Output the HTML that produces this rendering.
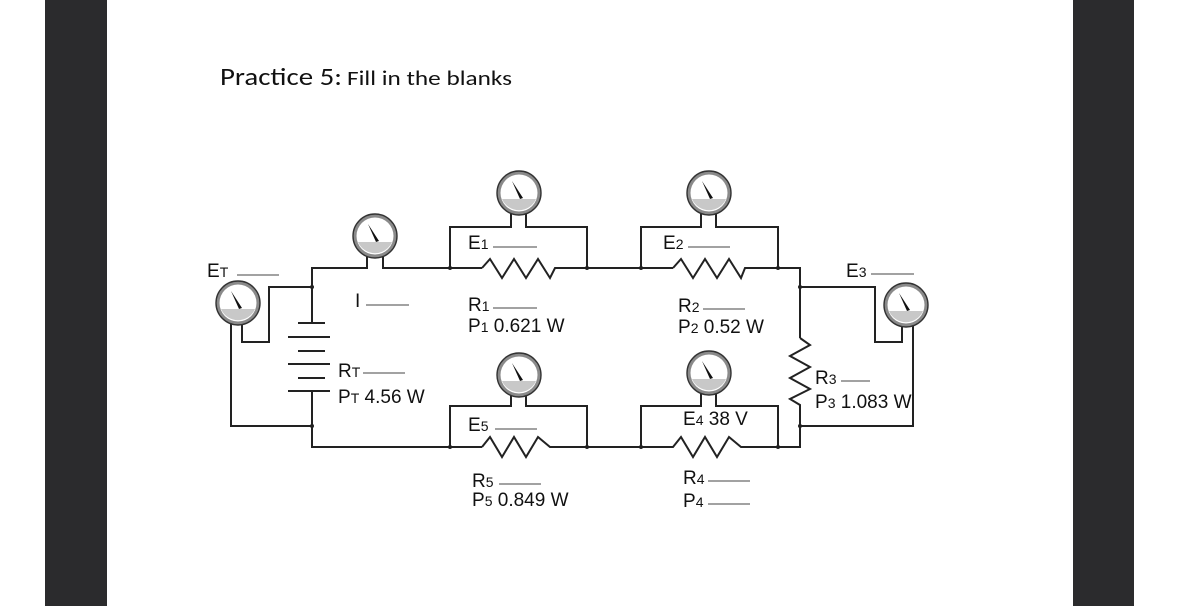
<!DOCTYPE html>
<html><head><meta charset="utf-8"><style>
html,body{margin:0;padding:0;background:#fff;}
body{width:1179px;height:606px;overflow:hidden;position:relative;}
.bar{position:absolute;top:0;height:606px;background:#2b2b2d;}
svg{position:absolute;left:0;top:0;}
text{font-family:"Liberation Sans",Arial,sans-serif;fill:#111;}
</style></head><body>
<div class="bar" style="left:45px;width:62px"></div>
<div class="bar" style="left:1073px;width:61px"></div>
<svg width="1179" height="606" viewBox="0 0 1179 606">
<defs>
<g id="m">
<circle r="22" fill="#8a8a8a"/>
<circle r="18.5" fill="#fff"/>
<path d="M-17,6 A18.5,18.5 0 0 0 17,6 Z" fill="#c8c8c8"/>
<path d="M-7,-12 L4,5 L1,6 Z" fill="#111"/>
<circle r="22" fill="none" stroke="#333" stroke-width="1.4"/>
</g>
</defs>
<text x="220" y="85" font-size="25" style="font-family:'Carlito','Liberation Sans',sans-serif" textLength="122" lengthAdjust="spacingAndGlyphs">Practice 5:</text>
<text x="347" y="85" font-size="21" style="font-family:'Carlito','Liberation Sans',sans-serif" textLength="165" lengthAdjust="spacingAndGlyphs">Fill in the blanks</text>

<g stroke="#222" stroke-width="2" fill="none">
<polyline points="312,323 312,268 367,268 367,256"/>
<polyline points="383,256 383,268 482,268"/>
<polyline points="312,391 312,447 482,447"/>
<polyline points="482,268 490,259 502,278 514,259 526,278 538,259 550,278 555,268 673,268"/>
<polyline points="450,268 450,227 511,227 511,213"/>
<polyline points="526,213 526,227 587,227 587,268"/>
<polyline points="673,268 681,259 693,278 705,259 717,278 729,259 741,278 745,268 800,268 800,338"/>
<polyline points="641,268 641,227 701,227 701,213"/>
<polyline points="716,213 716,227 778,227 778,268"/>
<polyline points="800,338 810,345 790,356 810,367 790,378 810,389 790,399 800,405 800,447 745,447"/>
<polyline points="745,447 741,447 729,437 717,457 705,437 693,457 681,437 673,447 555,447"/>
<polyline points="641,447 641,406 701,406 701,393"/>
<polyline points="716,393 716,406 778,406 778,447"/>
<polyline points="555,447 550,447 538,437 526,457 514,437 502,457 490,437 482,447"/>
<polyline points="450,447 450,406 511,406 511,395"/>
<polyline points="526,395 526,406 587,406 587,447"/>
<polyline points="312,287 269,287 269,342 242,342 242,322"/>
<polyline points="231,322 231,426 312,426"/>
<polyline points="800,287 875,287 875,342 902,342 902,325"/>
<polyline points="913,325 913,426 800,426"/>
<line x1="298" y1="323" x2="325" y2="323"/>
<line x1="288" y1="337" x2="330" y2="337"/>
<line x1="298" y1="351" x2="325" y2="351"/>
<line x1="288" y1="364" x2="330" y2="364"/>
<line x1="298" y1="378" x2="325" y2="378"/>
<line x1="288" y1="391" x2="330" y2="391"/>
</g>
<g fill="#222">
<circle cx="312" cy="287" r="2"/><circle cx="312" cy="426" r="2"/>
<circle cx="450" cy="268" r="2"/><circle cx="587" cy="268" r="2"/>
<circle cx="641" cy="268" r="2"/><circle cx="778" cy="268" r="2"/>
<circle cx="450" cy="447" r="2"/><circle cx="587" cy="447" r="2"/>
<circle cx="641" cy="447" r="2"/><circle cx="778" cy="447" r="2"/>
<circle cx="800" cy="287" r="2"/><circle cx="800" cy="426" r="2"/>
</g>
<use href="#m" x="238" y="303"/>
<use href="#m" x="375" y="236"/>
<use href="#m" x="519" y="193"/>
<use href="#m" x="709" y="193"/>
<use href="#m" x="519" y="375"/>
<use href="#m" x="709" y="373"/>
<use href="#m" x="906" y="305"/>

<g font-size="19">
<text x="207" y="277">E<tspan font-size="14">T</tspan></text>
<text x="355" y="307">I</text>
<text x="468" y="249">E<tspan font-size="14">1</tspan></text>
<text x="468" y="311">R<tspan font-size="14">1</tspan></text>
<text x="468" y="332">P<tspan font-size="14">1</tspan> 0.621 W</text>
<text x="338" y="377">R<tspan font-size="14">T</tspan></text>
<text x="338" y="403">P<tspan font-size="14">T</tspan> 4.56 W</text>
<text x="468" y="431">E<tspan font-size="14">5</tspan></text>
<text x="472" y="487">R<tspan font-size="14">5</tspan></text>
<text x="472" y="506">P<tspan font-size="14">5</tspan> 0.849 W</text>
<text x="663" y="249">E<tspan font-size="14">2</tspan></text>
<text x="678" y="312">R<tspan font-size="14">2</tspan></text>
<text x="678" y="333">P<tspan font-size="14">2</tspan> 0.52 W</text>
<text x="846" y="277">E<tspan font-size="14">3</tspan></text>
<text x="815" y="384">R<tspan font-size="14">3</tspan></text>
<text x="815" y="408">P<tspan font-size="14">3</tspan> 1.083 W</text>
<text x="683" y="425">E<tspan font-size="14">4</tspan> 38 V</text>
<text x="683" y="484">R<tspan font-size="14">4</tspan></text>
<text x="683" y="507">P<tspan font-size="14">4</tspan></text>
</g>
<g stroke="#444" stroke-width="1">
<line x1="237" y1="275" x2="279" y2="275"/>
<line x1="366" y1="305" x2="409" y2="305"/>
<line x1="493" y1="247" x2="537" y2="247"/>
<line x1="493" y1="308" x2="537" y2="308"/>
<line x1="363" y1="373" x2="405" y2="373"/>
<line x1="495" y1="429" x2="537" y2="429"/>
<line x1="499" y1="484" x2="541" y2="484"/>
<line x1="688" y1="247" x2="730" y2="247"/>
<line x1="703" y1="309" x2="745" y2="309"/>
<line x1="871" y1="274" x2="914" y2="274"/>
<line x1="841" y1="381" x2="870" y2="381"/>
<line x1="708" y1="481" x2="750" y2="481"/>
<line x1="708" y1="504" x2="750" y2="504"/>
</g>
</svg>
</body></html>
